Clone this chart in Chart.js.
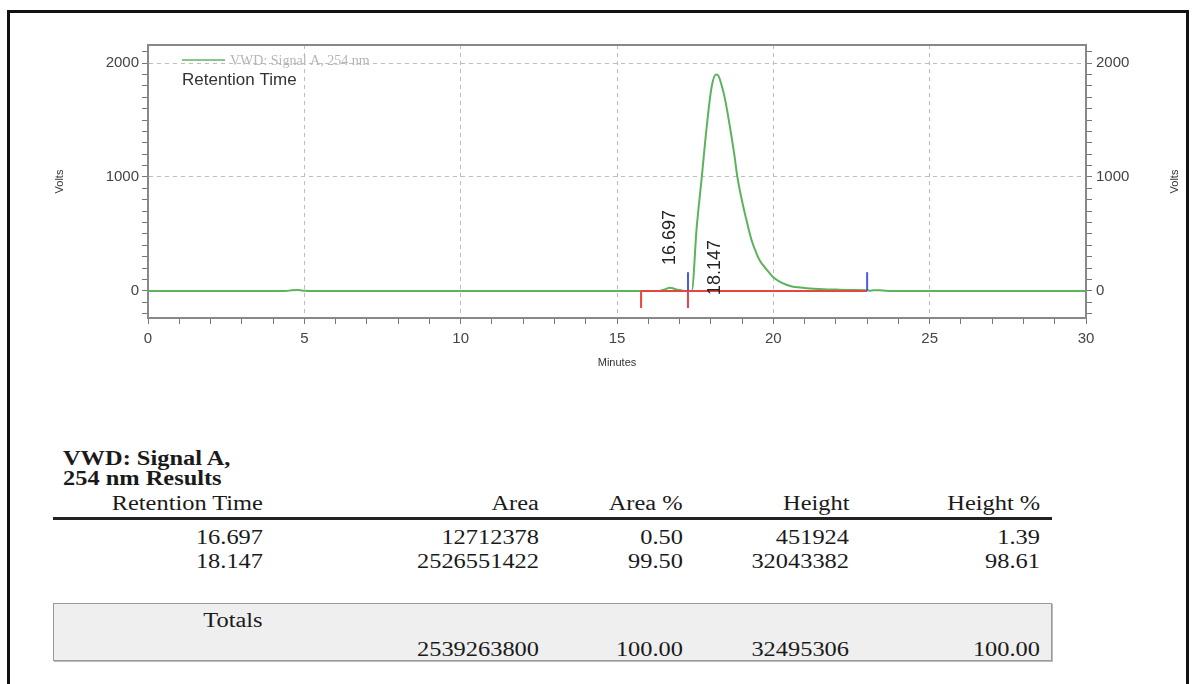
<!DOCTYPE html>
<html>
<head>
<meta charset="utf-8">
<script src="https://cdn.jsdelivr.net/npm/chart.js@4.4.0/dist/chart.umd.min.js"></script>
<style>
html, body { margin: 0; padding: 0; background: #fff; }
body { width: 1195px; height: 684px; position: relative; overflow: hidden;
       font-family: "Liberation Serif", "Times New Roman", serif; color: #1a1a1a; }
#frame { position: absolute; left: 7px; top: 10px; width: 1176px; height: 700px; border: 3px solid #111; }
#wrap { position: absolute; left: 0; top: 0; width: 1195px; height: 390px; }
.t { position: absolute; font-size: 20px; line-height: 24px; white-space: nowrap; transform: scaleX(1.22); }
.r { transform-origin: right center; }
.l { transform-origin: left center; font-weight: bold; }
#rule { position: absolute; left: 53px; top: 517px; width: 999px; height: 3px; background: #222; }
#totbox { position: absolute; left: 53px; top: 603px; width: 997px; height: 56px; background: #efefef;
          border: 1px solid #999; box-shadow: 1px 1px 0 #bbb; }
</style>
</head>
<body>
<div id="frame"></div>
<div id="wrap"><canvas id="chrom"></canvas></div>
<div id="totbox"></div>
<div id="rule"></div>
<div id="table"></div>

<script>
// chromatogram trace (minutes / volts)
const times = [0, 4.4, 4.6, 4.8, 5.0, 5.2,
  16.3, 16.5, 16.7, 16.9, 17.1, 17.3,
  17.39, 17.55, 17.71, 17.87, 18.03, 18.17, 18.25, 18.35, 18.45, 18.61, 18.75, 18.85,
  19.0, 19.15, 19.3, 19.46, 19.57, 19.78, 20.0, 20.2, 20.42, 20.6, 20.85, 21.06, 21.3, 21.6,
  22.0, 22.5, 23.0, 23.1, 23.2, 23.4, 23.6, 23.8, 30];
const volts = [0, 0, 6, 8, 3, 0,
  0, 12, 28, 14, 2, 0,
  0, 562, 994, 1443, 1796, 1900, 1885, 1800, 1690, 1443, 1200, 1000,
  790, 611, 450, 330, 265, 190, 120, 82, 55, 40, 30, 24, 19, 15,
  12, 9, 7, 3, 6, 6, 2, 0, 0];

// integration marks
const baselineRange = [15.77, 23.0];
const startMarks = [15.77, 17.27];   // red, below baseline
const endMarks = [17.27, 23.0];      // blue, above baseline
const markDepth = -150;
const markHeight = 165;

// peak labels
const peakTimes = [16.697, 18.147];
const peakLabelAt = [228, -35];

const yMin = -237, yMax = 2158;
const xMin = 0, xMax = 30;
const yTickValues = [-200, -100, 0, 100, 200, 300, 400, 500, 600, 700, 800, 900, 1000,
  1100, 1200, 1300, 1400, 1500, 1600, 1700, 1800, 1900, 2000, 2100];
const yLabelValues = [0, 1000, 2000];

// results table
const headers = ['Retention Time', 'Area', 'Area %', 'Height', 'Height %'];
const rows = [
  ['16.697', '12712378', '0.50', '451924', '1.39'],
  ['18.147', '2526551422', '99.50', '32043382', '98.61']
];
const totals = ['', '2539263800', '100.00', '32495306', '100.00'];

const colRight = [263, 539, 683, 849, 1040];

function cell(txt, right, cy) {
  const d = document.createElement('div');
  d.className = 't r';
  d.textContent = txt;
  d.style.right = (1195 - right) + 'px';
  d.style.top = (cy - 12) + 'px';
  document.getElementById('table').appendChild(d);
}
function title(txt, left, cy) {
  const d = document.createElement('div');
  d.className = 't l';
  d.textContent = txt;
  d.style.left = left + 'px';
  d.style.top = (cy - 12) + 'px';
  document.getElementById('table').appendChild(d);
}
title('VWD: Signal A,', 63, 458);
title('254 nm Results', 63, 478);
headers.forEach((h, i) => cell(h, colRight[i], 503));
rows.forEach((r, j) => r.forEach((v, i) => cell(v, colRight[i], 537 + j * 24)));
cell('Totals', colRight[0], 620);
totals.forEach((v, i) => { if (v) cell(v, colRight[i], 649); });

Chart.defaults.font.family = '"Liberation Sans", Arial, sans-serif';

const decor = {
  id: 'decor',
  afterDatasetsDraw(chart) {
    const { ctx, chartArea: a, scales: { x, y } } = chart;
    ctx.save();
    ctx.strokeStyle = '#888';
    ctx.lineWidth = 2;
    ctx.beginPath();
    ctx.moveTo(a.left, a.top);
    ctx.lineTo(a.right, a.top);
    ctx.stroke();

    // legend
    ctx.strokeStyle = '#86c986';
    ctx.lineWidth = 2;
    ctx.beginPath();
    ctx.moveTo(a.left + 34, a.top + 15);
    ctx.lineTo(a.left + 77, a.top + 15);
    ctx.stroke();
    ctx.fillStyle = '#b5b5b5';
    ctx.font = '14px "Liberation Serif", serif';
    ctx.textBaseline = 'middle';
    ctx.fillText(chart.data.datasets[0].label, a.left + 82, a.top + 16);
    ctx.fillStyle = '#333';
    ctx.font = '17px "Liberation Sans", Arial, sans-serif';
    ctx.fillText('Retention Time', a.left + 34, a.top + 35);

    // peak labels
    ctx.font = '18px "Liberation Sans", Arial, sans-serif';
    ctx.fillStyle = '#222';
    peakTimes.forEach((t, i) => {
      ctx.save();
      ctx.translate(x.getPixelForValue(t), y.getPixelForValue(peakLabelAt[i]));
      ctx.rotate(-Math.PI / 2);
      ctx.textAlign = 'left';
      ctx.textBaseline = 'middle';
      ctx.fillText(t.toFixed(3), 0, 0);
      ctx.restore();
    });

    // right axis title
    ctx.save();
    ctx.translate(chart.width - 20, (a.top + a.bottom) / 2);
    ctx.rotate(-Math.PI / 2);
    ctx.font = '11px "Liberation Sans", Arial, sans-serif';
    ctx.fillStyle = '#333';
    ctx.textAlign = 'center';
    ctx.textBaseline = 'middle';
    ctx.fillText('Volts', 0, 0);
    ctx.restore();
    ctx.restore();
  }
};

const markSets = [];
startMarks.forEach(t => markSets.push({
  data: [{ x: t, y: 0 }, { x: t, y: markDepth }],
  borderColor: '#e8463c', borderWidth: 2, pointRadius: 0, order: 1
}));
endMarks.forEach(t => markSets.push({
  data: [{ x: t, y: 0 }, { x: t, y: markHeight }],
  borderColor: '#4a5ae6', borderWidth: 2, pointRadius: 0, order: 1
}));

const tickFont = { size: 15 };
const setYTicks = s => { s.ticks = yTickValues.map(v => ({ value: v })); };
const yLabel = v => (yLabelValues.includes(v) ? String(v) : '');

new Chart(document.getElementById('chrom').getContext('2d'), {
  type: 'line',
  plugins: [decor],
  data: {
    datasets: [{
      label: 'VWD: Signal A, 254 nm',
      data: times.map((t, i) => ({ x: t, y: volts[i] })),
      borderColor: '#5cb35c',
      borderWidth: 2,
      pointRadius: 0,
      cubicInterpolationMode: 'monotone',
      order: 3
    }, {
      data: baselineRange.map(t => ({ x: t, y: 0 })),
      borderColor: '#e8463c',
      borderWidth: 2,
      pointRadius: 0,
      order: 2
    }, ...markSets]
  },
  options: {
    responsive: true,
    maintainAspectRatio: false,
    animation: false,
    layout: { padding: { top: 45, left: 0, right: 0, bottom: 0 } },
    plugins: { legend: { display: false }, tooltip: { enabled: false } },
    scales: {
      x: {
        type: 'linear', min: xMin, max: xMax,
        afterFit(s) { s.height = 72; },
        ticks: {
          stepSize: 1, autoSkip: false, maxRotation: 0, color: '#444', font: tickFont, padding: 6,
          callback: v => (v % 5 === 0 ? v : '')
        },
        grid: {
          color: c => (c.tick && c.tick.value % 5 === 0 && c.tick.value > xMin && c.tick.value < xMax) ? '#bdbdbd' : 'transparent',
          tickColor: '#777', tickLength: 6
        },
        border: { color: '#888', width: 2, dash: [4, 4] },
        title: { display: true, text: 'Minutes', color: '#333', font: { size: 11 }, padding: { top: 0, bottom: 20 } }
      },
      y: {
        type: 'linear', position: 'left', min: yMin, max: yMax,
        afterFit(s) { s.width = 148; },
        afterBuildTicks: setYTicks,
        ticks: { autoSkip: false, color: '#444', font: tickFont, padding: 3, callback: yLabel },
        grid: {
          color: c => (c.tick && c.tick.value > 0 && c.tick.value % 1000 === 0) ? '#bdbdbd' : 'transparent',
          tickColor: '#777', tickLength: 6
        },
        border: { color: '#888', width: 2, dash: [4, 4] },
        title: { display: true, text: 'Volts', color: '#333', font: { size: 11 }, padding: { top: 53, bottom: 0 } }
      },
      y2: {
        type: 'linear', position: 'right', min: yMin, max: yMax,
        afterFit(s) { s.width = 109; },
        afterBuildTicks: setYTicks,
        ticks: { autoSkip: false, color: '#444', font: tickFont, padding: 4, callback: yLabel },
        grid: { drawOnChartArea: false, tickColor: '#777', tickLength: 6 },
        border: { color: '#888', width: 2 }
      }
    }
  }
});
</script>
</body>
</html>
